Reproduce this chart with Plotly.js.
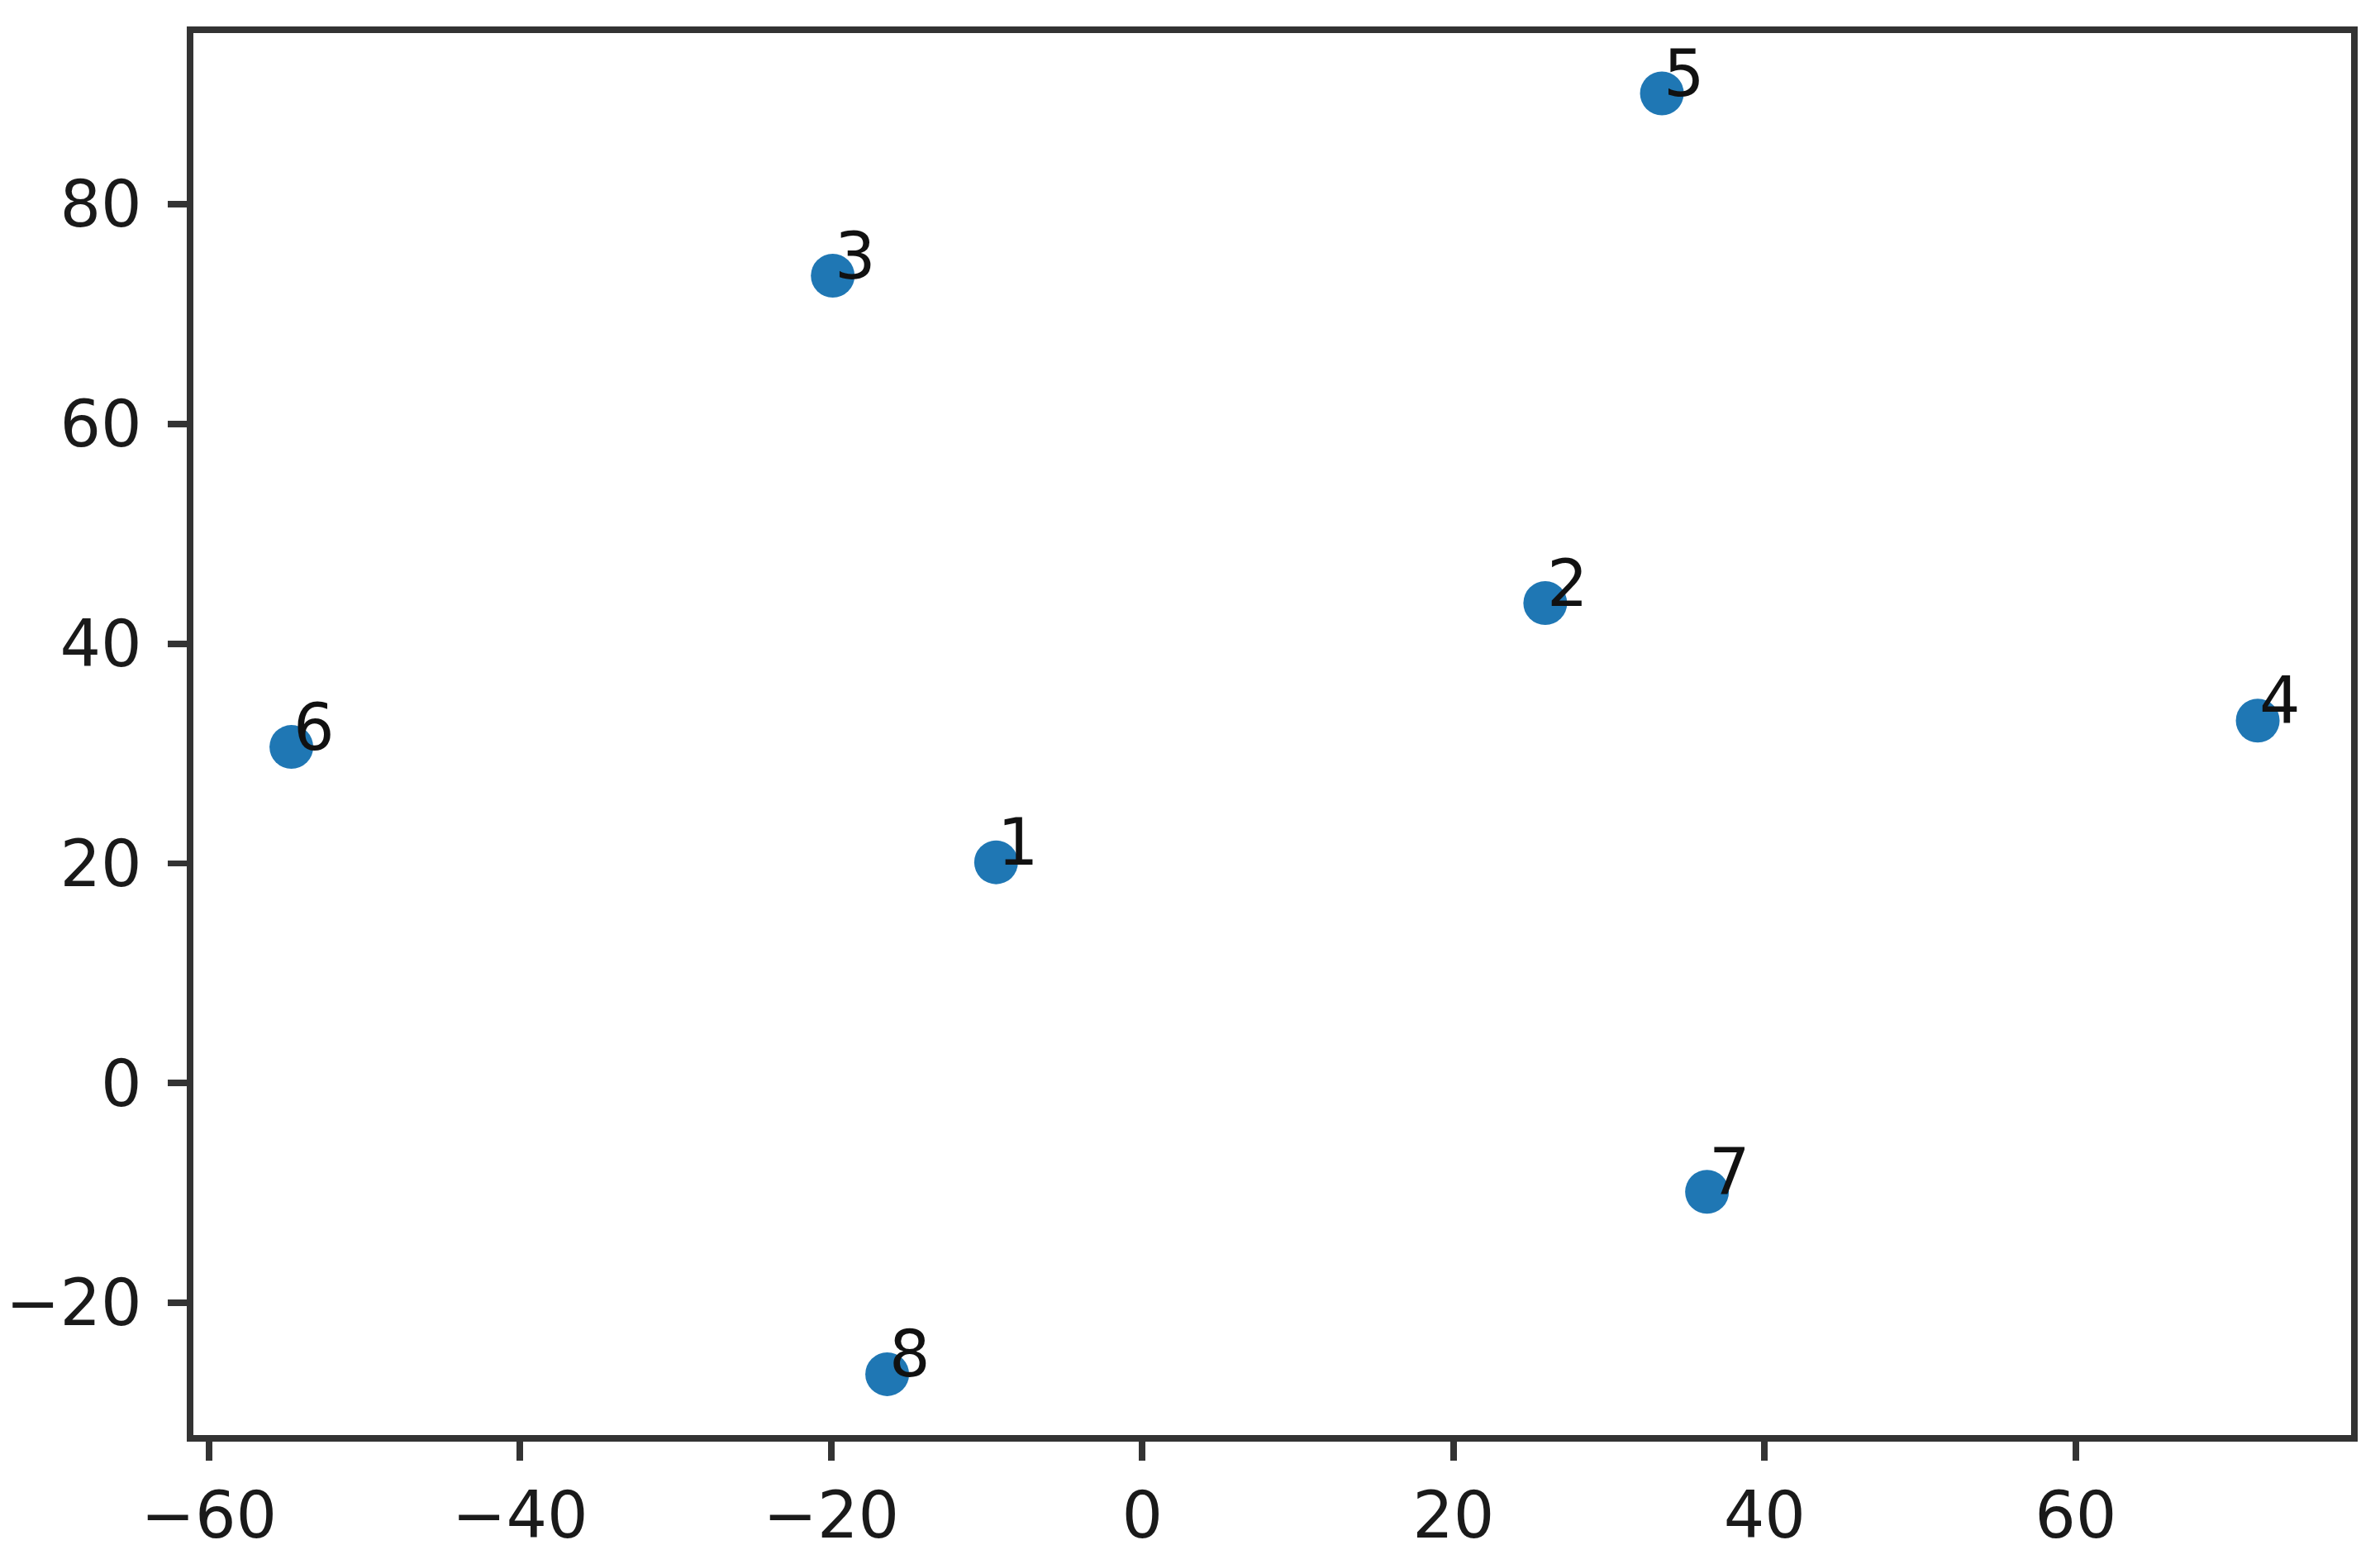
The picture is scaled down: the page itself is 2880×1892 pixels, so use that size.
<!DOCTYPE html>
<html>
<head>
<meta charset="utf-8">
<script src="https://cdn.plot.ly/plotly-3.0.1.min.js"></script>
<style>
  html, body { margin: 0; padding: 0; background: #ffffff; }
  #chart { width: 2880px; height: 1892px; }
</style>
</head>
<body>
<div id="chart"></div>
<script>
// Data
const labels = ["1", "2", "3", "4", "5", "6", "7", "8"];
const xValues = [-9.4, 25.9, -19.9, 71.7, 33.4, -54.7, 36.3, -16.4];
const yValues = [20.1, 43.7, 73.5, 33.0, 90.1, 30.6, -9.9, -26.5];
const xTicks = [-60, -40, -20, 0, 20, 40, 60];
const yTicks = [-20, 0, 20, 40, 60, 80];

const FONT = "DejaVu Sans, sans-serif";
const FS = 78;
const LW = 7.7;
const LC = "#333333";

const trace = {
  type: "scatter",
  mode: "markers",
  x: xValues,
  y: yValues,
  marker: { color: "#1f77b4", size: 53, line: { width: 0 } },
  hoverinfo: "skip",
  showlegend: false
};

const annotations = labels.map((t, i) => ({
  x: xValues[i],
  y: yValues[i],
  xref: "x",
  yref: "y",
  text: t,
  showarrow: false,
  xanchor: "left",
  yanchor: "bottom",
  xshift: 0,
  yshift: -23,
  font: { family: FONT, size: FS, color: "#111111" }
}));

const axisCommon = {
  showgrid: false,
  zeroline: false,
  showline: true,
  mirror: true,
  linecolor: LC,
  linewidth: LW,
  ticks: "outside",
  ticklen: 23,
  tickwidth: LW,
  tickcolor: LC,
  tickfont: { family: FONT, size: FS, color: "#1a1a1a" },
  tickmode: "array"
};

const layout = {
  width: 2880,
  height: 1892,
  paper_bgcolor: "#ffffff",
  plot_bgcolor: "#ffffff",
  margin: { l: 233.5, r: 35.3, t: 39.5, b: 156, pad: 0 },
  xaxis: Object.assign({}, axisCommon, {
    range: [-61.0, 77.7],
    tickvals: xTicks,
    ticktext: xTicks.map(v => (v < 0 ? "\u2212" + Math.abs(v) : String(v)))
  }),
  yaxis: Object.assign({}, axisCommon, {
    range: [-32.04, 95.59],
    tickvals: yTicks,
    ticklabelstandoff: 16,
    ticktext: yTicks.map(v => (v < 0 ? "\u2212" + Math.abs(v) : String(v)))
  }),
  annotations: annotations,
  showlegend: false
};

Plotly.newPlot("chart", [trace], layout, { staticPlot: true, displayModeBar: false });
</script>
</body>
</html>
